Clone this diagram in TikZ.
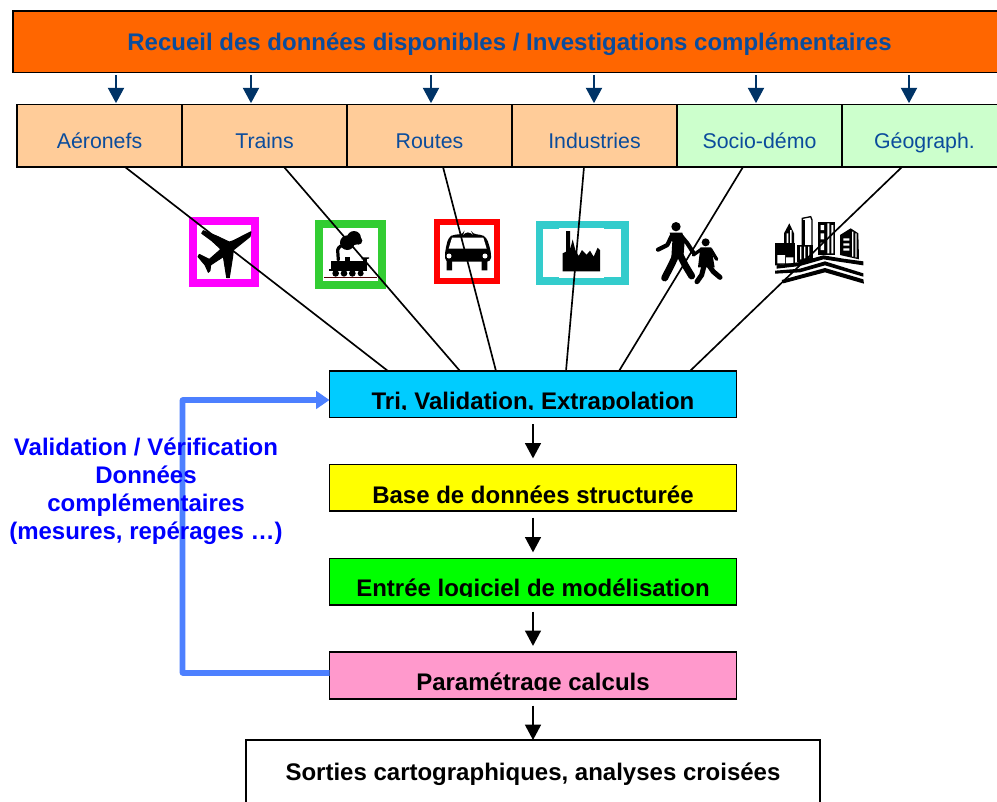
\documentclass[tikz,border=0pt]{standalone}
\usepackage{fontspec}
\setmainfont{Liberation Sans}
\usetikzlibrary{arrows.meta,calc}
\definecolor{cOrange}{HTML}{FF6600}
\definecolor{cPeach}{HTML}{FFCC99}
\definecolor{cMint}{HTML}{CCFFCC}
\definecolor{cCyan}{HTML}{00CCFF}
\definecolor{cPink}{HTML}{FF99CC}
\definecolor{cNavy}{HTML}{003366}
\definecolor{cLabel}{HTML}{0B4C9C}
\definecolor{cFeed}{HTML}{4D80FF}
\definecolor{cTeal}{HTML}{33CCCC}
\definecolor{cLime}{HTML}{32CD32}
\definecolor{cMagenta}{HTML}{FF00FF}
\definecolor{cYellow}{HTML}{FFFF00}
\definecolor{cGreen}{HTML}{00FF00}
\definecolor{cRed}{HTML}{FF0000}
\definecolor{cBlue}{HTML}{0000FF}
\tikzset{
  boxbase/.style={draw=black,line width=1.1pt,inner sep=0pt,outer sep=0pt,anchor=center},
  flowbox/.style={boxbase,minimum width=305.25pt,text height=#1,font=\fontsize{18}{20}\selectfont\bfseries},
  cell/.style={boxbase,minimum width=123.75pt,text height=33.35pt,text depth=13.5pt,text=cLabel,font=\fontsize{16}{18}\selectfont},
  navyarrow/.style={draw=cNavy,line width=1.5pt,-{Triangle[width=12pt,length=11.5pt]},shorten <=2pt,shorten >=1pt},
  blackarrow/.style={draw=black,line width=1.1pt,-{Triangle[width=12pt,length=11.5pt]}},
  spoke/.style={draw=black,line width=1.25pt},
  feedback/.style={draw=cFeed,line width=4.2pt,line join=round,-{Triangle[width=13pt,length=10pt]}},
  frame/.style={line width=6pt,miter limit=10},
  ink/.style={fill=black,draw=none},
  inkline/.style={draw=black,line cap=round,line join=round},
}
\begin{document}
\begin{tikzpicture}[x=0.75pt,y=-0.75pt]
\useasboundingbox (0,0) rectangle (997,801);
\clip (0,0) rectangle (997,801);

% ----- icons
\draw[frame,draw=cMagenta] (193,221) rectangle (255,283);
\draw[frame,draw=cLime] (319,224) rectangle (382,285);
\draw[frame,line width=4.6pt,draw=cRed] (437,222) rectangle (497,281);
\draw[frame,line width=5.6pt,draw=cTeal] (539.7,225) rectangle (625,281);
\fill[white] (559,227.5) rectangle (604,278);

% plane, train: zoom one units
\begin{scope}[shift={(170,200)},x=0.25pt,y=-0.25pt]
  \filldraw[fill=black,draw=black,line width=0.7pt,line join=round] (243,95)--(190,122)--(178,126)--(140,108)--(100,92)--(95,100)--(125,122)--(150,145)--(150,150)--(118,178)--(88,163)--(84,170)--(105,195)--(115,217)--(120,212)--(122,195)--(160,170)--(170,233)--(178,233)--(188,170)--(190,150)--(240,110)--cycle;
  % train
  \fill[ink] (532,128) circle (22) (552,114) circle (21) (565,122) circle (12) (520,125) circle (9);
  \draw[inkline,line width=2.4pt] (505,180)--(503,150) .. controls (505,140) and (515,135) .. (528,135);
  \fill[ink] (483,182) rectangle (590,210);
  \fill[ink] (525,170) rectangle (540,182);
  \fill[ink] (575,172) -- (597,172) -- (597,176) -- (575,178) -- cycle;
  \fill[ink] (578,178) rectangle (590,190);
  \fill[ink] (497,220) circle (10) (522,220) circle (10) (547,220) circle (10) (572,220) circle (9);
  \fill[ink] (476,207) rectangle (590,214);
  \draw[draw=black!70!red,line width=0.9pt] (462,233)--(620,233);
\end{scope}

% car, factory, people, city: zoom two units
\begin{scope}[shift={(430,200)},x=0.25pt,y=-0.25pt]
  % car
  \fill[ink,rounded corners=3pt] (45,185)--(45,155)--(55,112)--(72,103)--(100,103)--(102,97)--(125,97)--(128,103)--(152,103)--(170,112)--(183,155)--(183,185)--cycle;
  \fill[white] (66,113)--(160,113)--(170,146)--(56,146)--cycle;
  \fill[ink] (50,180) rectangle (66,211) (155,180) rectangle (172,211);
  \fill[white] (57,168) circle (7.5) (165,168) circle (7.5);
  % factory
  \fill[ink] (408,93)--(420,93)--(420,150)--(428,118)--(436,150)--(446,168)--(456,150)--(470,164)--(480,152)--(491,170)--(503,143)--(510,150)--(510,214)--(398,214)--(398,160)--(408,155)--cycle;
  % people
  \fill[ink] (738,80) circle (14);
  \fill[ink] (719,98)--(757,98)--(764,125)--(760,172)--(724,172)--(727,125)--cycle;
  \draw[inkline,line width=3.2pt] (726,106)--(712,135)--(684,149);
  \draw[inkline,line width=3.2pt] (752,106)--(772,130)--(790,158);
  \draw[inkline,line width=5.2pt] (738,165)--(724,195)--(704,234);
  \draw[inkline,line width=5.2pt] (750,165)--(765,195)--(785,228);
  \fill[ink] (827,127) circle (12);
  \fill[ink] (811,142)--(844,142)--(854,202)--(804,202)--cycle;
  \draw[inkline,line width=2.5pt] (814,148)--(790,165);
  \draw[inkline,line width=2.5pt] (842,148)--(860,178);
  \draw[inkline,line width=3.8pt] (822,198)--(815,225)--(801,245);
  \draw[inkline,line width=3.8pt] (838,198)--(850,215)--(870,232);
  % city
  \draw[draw=black,line width=1pt,fill=white] (1117,155)--(1117,55)--(1142,50)--(1146,60)--(1146,155)--cycle;
  \fill[ink] (1115,60) rectangle (1126,155);
  \fill[ink] (1062,100)--(1078,70)--(1092,100)--(1092,180)--(1062,180)--cycle;
  \fill[white] (1070,100) rectangle (1075,165) (1080,90) rectangle (1085,170);
  \fill[ink] (1165,65) rectangle (1215,165);
  \fill[white] (1172,75) rectangle (1182,90) (1172,100) rectangle (1182,118) (1172,128) rectangle (1182,150) (1192,70) rectangle (1198,160) (1204,75) rectangle (1210,160);
  \fill[ink] (1230,105)--(1262,85)--(1285,100)--(1287,178)--(1230,165)--cycle;
  \fill[white] (1240,115) rectangle (1258,122) (1240,130) rectangle (1258,137) (1240,145) rectangle (1258,152) (1266,95) rectangle (1270,170) (1276,100) rectangle (1280,172);
  \fill[ink] (1035,130) rectangle (1095,197);
  \fill[white] (1042,165) rectangle (1065,190) (1068,172) rectangle (1090,190);
  \fill[ink] (1100,135) rectangle (1150,185);
  \fill[white] (1110,140) rectangle (1114,178) (1122,140) rectangle (1126,175) (1134,140) rectangle (1138,172);
  \fill[white] (1030,197)--(1100,190)--(1180,170)--(1300,200)--(1305,255)--(1030,240)--cycle;
  \fill[ink] (1040,196)--(1110,186)--(1180,166)--(1240,176)--(1300,184)--(1300,196)--(1240,187)--(1180,178)--(1110,198)--(1040,206)--cycle;
  \fill[ink] (1035,212)--(1110,206)--(1185,184)--(1300,220)--(1300,230)--(1185,196)--(1110,217)--(1035,221)--cycle;
  \fill[ink] (1055,240)--(1120,222)--(1185,204)--(1300,238)--(1302,251)--(1185,217)--(1120,234)--(1060,250)--cycle;
\end{scope}

% ----- top boxes
\node[boxbase,fill=cOrange,minimum width=744.75pt,text height=30pt,text depth=16.15pt,text=cLabel,font=\fontsize{18}{20}\selectfont\bfseries] (title) at (509.5,41.75) {Recueil des données disponibles / Investigations complémentaires};
\node[cell,fill=cPeach] (aero) at (99.5,135.75) {Aéronefs};
\node[cell,fill=cPeach] (trains) at (264.5,135.75) {Trains};
\node[cell,fill=cPeach] (routes) at (429.5,135.75) {Routes};
\node[cell,fill=cPeach] (indus) at (594.5,135.75) {Industries};
\node[cell,fill=cMint] (socio) at (759.5,135.75) {Socio-démo};
\node[cell,fill=cMint] (geo) at (924.5,135.75) {Géograph.};

% ----- flow boxes
\node[flowbox=28.6pt,text depth=6.25pt,fill=cCyan] (tri) at (533,394.25) {Tri, Validation, Extrapolation};
\node[flowbox=29.4pt,text depth=5.45pt,fill=cYellow] (base) at (533,487.75) {Base de données structurée};
\node[flowbox=28.15pt,text depth=6.75pt,fill=cGreen] (entree) at (533,581.75) {Entrée logiciel de modélisation};
\node[flowbox=28.5pt,text depth=6.75pt,fill=cPink] (param) at (533,675.5) {Paramétrage calculs};
\node[flowbox=30pt,text depth=17.25pt,minimum width=430.5pt,fill=white] (sorties) at (533,771.5) {Sorties cartographiques, analyses croisées};
% the boxes cut off the descenders of their texts
\fill[cCyan] (331,410) rectangle (735,416.5);
\fill[cGreen] (331,597) rectangle (735,604);
\fill[cPink] (331,690.5) rectangle (735,698);

% ----- connectors
\foreach \n/\s in {aero/16.5,trains/-13.5,routes/1.5,indus/-0.5,socio/-3.5,geo/-15.5}
  \draw[navyarrow] ([xshift=\s*0.75pt]\n.north |- title.south) -- ([xshift=\s*0.75pt]\n.north);
\draw[spoke] ([xshift=25.5*0.75pt]aero.south) -- ([xshift=-145*0.75pt]tri.north);
\draw[spoke] ([xshift=19.5*0.75pt]trains.south) -- ([xshift=-73*0.75pt]tri.north);
\draw[spoke] ([xshift=13.5*0.75pt]routes.south) -- ([xshift=-37*0.75pt]tri.north);
\draw[spoke] ([xshift=-10.5*0.75pt]indus.south) -- ([xshift=33*0.75pt]tri.north);
\draw[spoke] ([xshift=-16.5*0.75pt]socio.south) -- ([xshift=86*0.75pt]tri.north);
\draw[spoke] ([xshift=-22.5*0.75pt]geo.south) -- ([xshift=157*0.75pt]tri.north);
\draw[blackarrow,shorten <=4.9pt,shorten >=4.6pt] (tri) -- (base);
\draw[blackarrow,shorten <=5pt,shorten >=4.6pt] (base) -- (entree);
\draw[blackarrow,shorten <=5pt,shorten >=4.6pt] (entree) -- (param);
\draw[blackarrow,shorten <=5pt] (param) -- (sorties.north);

\coordinate (fbbottom) at (182.5,673);
\coordinate (fbtop) at (182.5,400);
\draw[feedback] ([yshift=1.9pt]param.west) -- (fbbottom) -- (fbtop) -- ([yshift=-4.3pt]tri.west);

\node[align=center,text=cBlue,inner sep=0pt,font=\fontsize{18}{21}\selectfont\bfseries,anchor=center] (note) at (146,491.5) {Validation / Vérification\\Données\\complémentaires\\(mesures, repérages …)};
\end{tikzpicture}
\end{document}
